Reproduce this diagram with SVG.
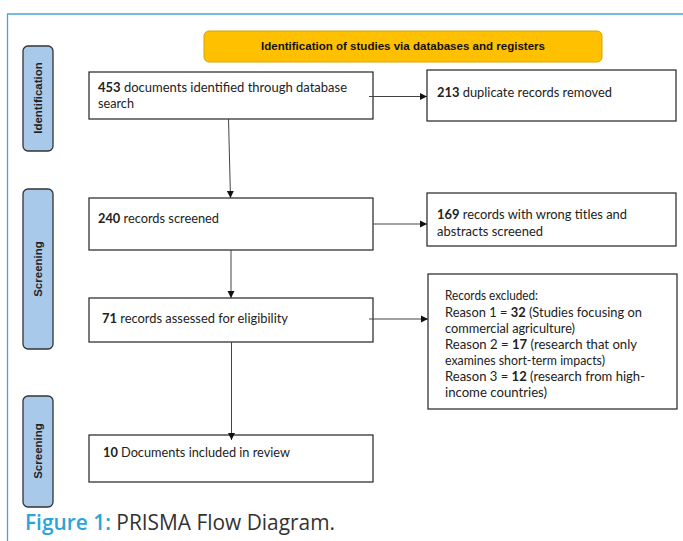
<svg xmlns="http://www.w3.org/2000/svg" width="683" height="541" viewBox="0 0 683 541">
<defs>
<style>
.box{fill:#fff;stroke:#222;stroke-width:1.2}
.side{fill:#a9c9ea;stroke:#333;stroke-width:1.3}
.sidet{font-family:"Liberation Sans",Arial,sans-serif;font-weight:bold;font-size:11.5px;fill:#222;text-anchor:middle}
.t{font-family:Lato,"Open Sans",sans-serif;font-size:13.5px;fill:#222}
.s{font-size:12.5px}
.b{font-weight:bold}
.ln{fill:none;stroke:#444;stroke-width:1}
</style>
<marker id="ah" markerWidth="8" markerHeight="8" refX="7" refY="4" orient="auto" markerUnits="userSpaceOnUse">
<path d="M0,0.5 L7,4 L0,7.5 Z" fill="#111"/>
</marker>
</defs>
<rect width="683" height="541" fill="#fff"/>
<path d="M7.5,541 V14 H683" fill="none" stroke="#4aa6d6" stroke-width="1.3"/>

<g id="header">
<rect x="204" y="31" width="398" height="31" rx="5" fill="#ffc000" stroke="#d9a400" stroke-width="1"/>
<text x="403" y="50" font-family="'Liberation Sans',Arial,sans-serif" font-weight="bold" font-size="11.5px" fill="#111" text-anchor="middle" textLength="284" lengthAdjust="spacingAndGlyphs">Identification of studies via databases and registers</text>
</g>

<g id="side-identification">
<rect class="side" x="23" y="46" width="30" height="105" rx="5"/>
<text class="sidet" transform="translate(42,98) rotate(-90)">Identification</text>
</g>
<g id="side-screening1">
<rect class="side" x="23" y="189" width="30" height="160" rx="5"/>
<text class="sidet" transform="translate(42,269) rotate(-90)">Screening</text>
</g>
<g id="side-screening2">
<rect class="side" x="23" y="396" width="30" height="111" rx="5"/>
<text class="sidet" transform="translate(42,451) rotate(-90)">Screening</text>
</g>

<g id="n453">
<rect class="box" x="89" y="72" width="284" height="47"/>
<text class="t" x="98" y="92" textLength="249" lengthAdjust="spacingAndGlyphs"><tspan class="b">453</tspan> documents identified through database</text>
<text class="t" x="98" y="108" textLength="36" lengthAdjust="spacingAndGlyphs">search</text>
</g>
<g id="n213">
<rect class="box" x="427" y="70" width="249" height="51"/>
<text class="t" x="437" y="97" textLength="175" lengthAdjust="spacingAndGlyphs"><tspan class="b">213</tspan> duplicate records removed</text>
</g>
<g id="n240">
<rect class="box" x="89" y="198" width="284" height="52"/>
<text class="t" x="98" y="223" textLength="121" lengthAdjust="spacingAndGlyphs"><tspan class="b">240</tspan> records screened</text>
</g>
<g id="n169">
<rect class="box" x="427" y="193" width="249" height="53"/>
<text class="t" x="437" y="219" textLength="190" lengthAdjust="spacingAndGlyphs"><tspan class="b">169</tspan> records with wrong titles and</text>
<text class="t" x="437" y="236" textLength="106" lengthAdjust="spacingAndGlyphs">abstracts screened</text>
</g>
<g id="n71">
<rect class="box" x="89" y="298" width="284" height="44"/>
<text class="t" x="102" y="323" textLength="186" lengthAdjust="spacingAndGlyphs"><tspan class="b">71</tspan> records assessed for eligibility</text>
</g>
<g id="excluded">
<rect class="box" x="428" y="274" width="249" height="135"/>
<text class="t s" x="445" y="300" textLength="93" lengthAdjust="spacingAndGlyphs">Records excluded:</text>
<text class="t s" x="445" y="316.5" textLength="197" lengthAdjust="spacingAndGlyphs">Reason 1 = <tspan class="b">32</tspan> (Studies focusing on</text>
<text class="t s" x="445" y="332.5" textLength="130" lengthAdjust="spacingAndGlyphs">commercial agriculture)</text>
<text class="t s" x="445" y="348.5" textLength="192" lengthAdjust="spacingAndGlyphs">Reason 2 = <tspan class="b">17</tspan> (research that only</text>
<text class="t s" x="445" y="364.5" textLength="160" lengthAdjust="spacingAndGlyphs">examines short-term impacts)</text>
<text class="t s" x="445" y="380.5" textLength="200" lengthAdjust="spacingAndGlyphs">Reason 3 = <tspan class="b">12</tspan> (research from high-</text>
<text class="t s" x="445" y="396.5" textLength="102" lengthAdjust="spacingAndGlyphs">income countries)</text>
</g>
<g id="n10">
<rect class="box" x="89" y="435" width="284" height="47"/>
<text class="t" x="103" y="457" textLength="187" lengthAdjust="spacingAndGlyphs"><tspan class="b">10</tspan> Documents included in review</text>
</g>

<g id="connectors">
<line class="ln" x1="369" y1="96.5" x2="427" y2="96.5" marker-end="url(#ah)"/>
<line class="ln" x1="228.5" y1="119" x2="230.5" y2="198" marker-end="url(#ah)"/>
<line class="ln" x1="373" y1="224" x2="427" y2="224" marker-end="url(#ah)"/>
<line class="ln" x1="231" y1="250" x2="231" y2="298" marker-end="url(#ah)"/>
<line class="ln" x1="369" y1="319" x2="428" y2="319" marker-end="url(#ah)"/>
<line class="ln" x1="231.5" y1="342" x2="231.5" y2="440" marker-end="url(#ah)"/>
</g>

<text x="25" y="530" font-family="'Open Sans',sans-serif" font-size="21px" fill="#333" textLength="310" lengthAdjust="spacingAndGlyphs"><tspan fill="#2aa4dc" font-weight="600">Figure 1:</tspan> PRISMA Flow Diagram.</text>
</svg>
